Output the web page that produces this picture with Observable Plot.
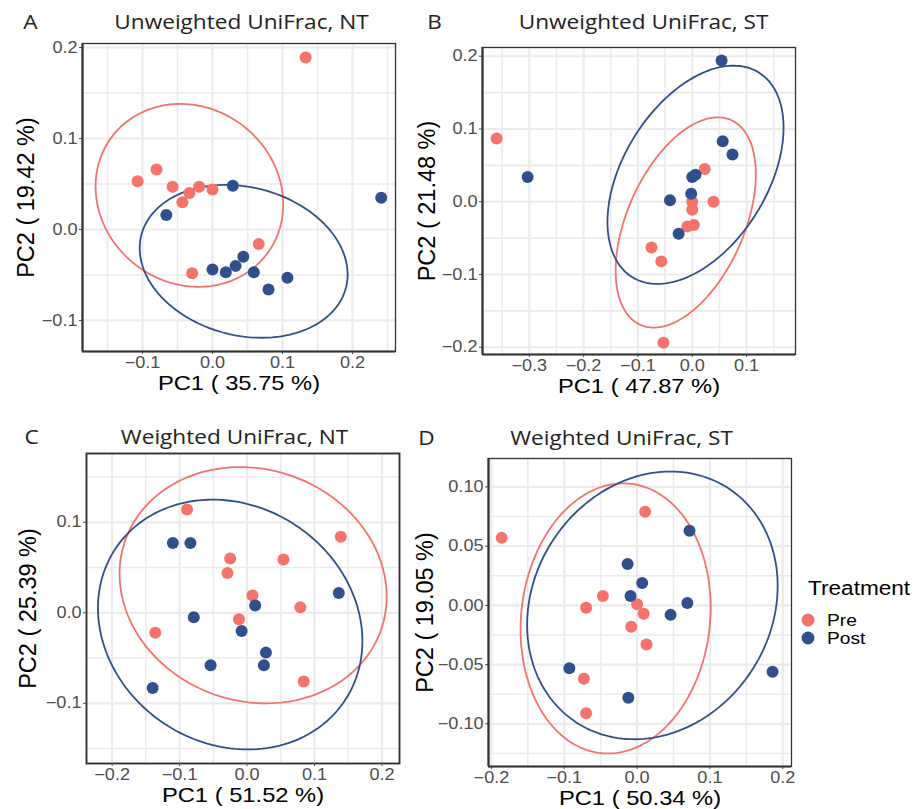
<!DOCTYPE html>
<html><head><meta charset="utf-8">
<script src="https://cdn.jsdelivr.net/npm/d3@7"></script>
<script src="https://cdn.jsdelivr.net/npm/@observablehq/plot@0.6"></script>
<style>
html,body{margin:0;padding:0;background:#fff;}
#chart{position:relative;width:915px;height:809px;overflow:hidden;background:#fff;}
#chart svg{position:absolute;overflow:visible;}
</style></head><body><div id="chart"></div>
<script>
// ---------- data ----------
const groups = ["Pre", "Post"];
const groupColors = ["#F4736A", "#2F508C"];
const legendTitle = "Treatment";

// A: Unweighted UniFrac, NT
const uwNtPre = [[0.133,0.189],[-0.107,0.053],[-0.080,0.066],[-0.057,0.047],[-0.043,0.030],[-0.033,0.040],[-0.019,0.047],[0.000,0.044],[-0.029,-0.048],[0.066,-0.016]];
const uwNtPost = [[0.029,0.048],[-0.066,0.016],[0.000,-0.044],[0.019,-0.047],[0.033,-0.040],[0.044,-0.030],[0.059,-0.047],[0.080,-0.066],[0.107,-0.053],[0.241,0.035]];
// ellipse: [xmin, xmax, ymin, ymax, x at top]
const uwNtEllPre = [-0.167,0.101,-0.063,0.138,-0.046];
const uwNtEllPost = [-0.104,0.193,-0.119,0.049,0.019];

// B: Unweighted UniFrac, ST
const uwStPre = [[-0.360,0.087],[0.023,0.045],[0.000,0.000],[0.000,-0.011],[0.039,0.000],[-0.009,-0.034],[0.003,-0.032],[-0.075,-0.063],[-0.057,-0.082],[-0.053,-0.194]];
const uwStPost = [[-0.303,0.034],[0.054,0.194],[0.056,0.083],[0.074,0.065],[0.000,0.034],[0.006,0.037],[-0.002,0.011],[-0.041,0.002],[-0.025,-0.044]];
const uwStEllPre = [-0.141,0.117,-0.173,0.116,0.047];
const uwStEllPost = [-0.156,0.168,-0.113,0.187,0.076];

// C: Weighted UniFrac, NT
const wNtPre = [[-0.089,0.114],[-0.025,0.060],[-0.029,0.044],[0.139,0.084],[0.054,0.059],[0.008,0.019],[0.079,0.006],[-0.012,-0.007],[-0.136,-0.022],[0.084,-0.076]];
const wNtPost = [[-0.110,0.077],[-0.084,0.077],[0.136,0.022],[0.012,0.008],[-0.079,-0.005],[-0.008,-0.020],[0.028,-0.044],[-0.054,-0.058],[0.025,-0.058],[-0.140,-0.083]];
const wNtEllPre = [-0.189,0.207,-0.100,0.161,-0.010];
const wNtEllPost = [-0.221,0.171,-0.151,0.125,-0.051];

// D: Weighted UniFrac, ST
const wStPre = [[-0.186,0.057],[-0.047,0.008],[-0.070,-0.002],[0.011,0.079],[0.000,0.001],[0.009,-0.007],[-0.008,-0.018],[0.013,-0.033],[-0.073,-0.062],[-0.070,-0.091]];
const wStPost = [[0.072,0.063],[-0.013,0.035],[0.007,0.019],[-0.009,0.008],[0.069,0.002],[0.046,-0.008],[-0.093,-0.053],[-0.012,-0.078],[0.186,-0.056]];
const wStEllPre = [-0.160,0.101,-0.125,0.103,-0.019];
const wStEllPost = [-0.151,0.193,-0.113,0.113,0.046];

// tick values
const ticksA_x = [-0.1,0,0.1,0.2], minorA_x = [-0.15,-0.05,0.05,0.15,0.25];
const ticksA_y = [-0.1,0,0.1,0.2], minorA_y = [-0.05,0.05,0.15];
const ticksB_x = [-0.3,-0.2,-0.1,0,0.1], minorB_x = [-0.35,-0.25,-0.15,-0.05,0.05,0.15];
const ticksB_y = [-0.2,-0.1,0,0.1,0.2], minorB_y = [-0.15,-0.05,0.05,0.15];
const ticksC_x = [-0.2,-0.1,0,0.1,0.2], minorC_x = [-0.15,-0.05,0.05,0.15];
const ticksC_y = [-0.1,0,0.1], minorC_y = [-0.15,-0.05,0.05,0.15];
const ticksD_x = [-0.2,-0.1,0,0.1,0.2], minorD_x = [-0.15,-0.05,0.05,0.15];
const ticksD_y = [-0.10,-0.05,0,0.05,0.10], minorD_y = [-0.125,-0.075,-0.025,0.025,0.075];

const panels = [
  {letter:"A", title:"Unweighted UniFrac, NT", xlab:"PC1 ( 35.75 %)", ylab:"PC2 ( 19.42 %)",
   pre:uwNtPre, post:uwNtPost, ellPre:uwNtEllPre, ellPost:uwNtEllPost,
   xd:[-0.1857,0.2614], yd:[-0.1341,0.2044], xt:ticksA_x, xm:minorA_x, yt:ticksA_y, ym:minorA_y, yf:".1f",
   box:{left:0, top:0, width:420, height:400, mt:43, mr:25, mb:49, ml:82},
   tdx:2.5, tdy:-20.5, ldx:-52, ldy:-20.5, ylx:-56, thick:true},
  {letter:"B", title:"Unweighted UniFrac, ST", xlab:"PC1 ( 47.87 %)", ylab:"PC2 ( 21.48 %)",
   pre:uwStPre, post:uwStPost, ellPre:uwStEllPre, ellPost:uwStEllPost,
   xd:[-0.386,0.190], yd:[-0.210,0.212], xt:ticksB_x, xm:minorB_x, yt:ticksB_y, ym:minorB_y, yf:".1f",
   box:{left:420, top:0, width:400, height:400, mt:47, mr:25, mb:46, ml:62},
   tdx:4.5, tdy:-25, ldx:-48, ldy:-25, ylx:-55, thick:true},
  {letter:"C", title:"Weighted UniFrac, NT", xlab:"PC1 ( 51.52 %)", ylab:"PC2 ( 25.39 %)",
   pre:wNtPre, post:wNtPost, ellPre:wNtEllPre, ellPost:wNtEllPost,
   xd:[-0.238,0.226], yd:[-0.1665,0.176], xt:ticksC_x, xm:minorC_x, yt:ticksC_y, ym:minorC_y, yf:".1f",
   box:{left:0, top:400, width:420, height:409, mt:53, mr:21, mb:46, ml:86},
   tdx:-8.5, tdy:-16, ldx:-55, ldy:-16, ylx:-58, thick:false},
  {letter:"D", title:"Weighted UniFrac, ST", xlab:"PC1 ( 50.34 %)", ylab:"PC2 ( 19.05 %)",
   pre:wStPre, post:wStPost, ellPre:wStEllPre, ellPost:wStEllPost,
   xd:[-0.204,0.212], yd:[-0.136,0.124], xt:ticksD_x, xm:minorD_x, yt:ticksD_y, ym:minorD_y, yf:".2f",
   box:{left:420, top:400, width:380, height:409, mt:58, mr:9, mb:43, ml:68},
   tdx:-18.5, tdy:-20, ldx:-62, ldy:-20, ylx:-63, thick:true}
];

// ---------- helpers ----------
const SANS = "'Liberation Sans', Arial, Helvetica, sans-serif";
const TITLE_FONT = "'Open Sans', 'Noto Sans', sans-serif";
const SX = 1.13; // horizontal text stretch of the reference image

function ellipse(p, group) {
  const [xmin, xmax, ymin, ymax, xtop] = p;
  const cx = (xmin + xmax) / 2, rx = (xmax - xmin) / 2;
  const cy = (ymin + ymax) / 2, ry = (ymax - ymin) / 2;
  const phi = Math.acos(Math.max(-1, Math.min(1, (xtop - cx) / rx)));
  return d3.range(0, 181).map(i => {
    const t = i / 180 * 2 * Math.PI;
    return {x: cx + rx * Math.cos(t), y: cy + ry * Math.cos(t - phi), group};
  });
}

function isRotated(el) {
  for (let n = el; n && n.getAttribute; n = n.parentNode) {
    const tr = n.getAttribute("transform");
    if (tr && tr.includes("rotate")) return true;
  }
  return false;
}

function stretch(svg, sx) {
  svg.querySelectorAll("text").forEach(t => {
    if (isRotated(t)) return;
    const w = t.getComputedTextLength();
    if (!(w > 0)) return;
    t.setAttribute("textLength", (w * sx).toFixed(2));
    t.setAttribute("lengthAdjust", "spacingAndGlyphs");
  });
}

const chart = document.getElementById("chart");

for (const p of panels) {
  const pts = [
    ...p.pre.map(([x, y]) => ({x, y, group: "Pre"})),
    ...p.post.map(([x, y]) => ({x, y, group: "Post"}))
  ];
  const ells = [...ellipse(p.ellPre, "Pre"), ...ellipse(p.ellPost, "Post")];
  const b = p.box;
  const marks = [
    Plot.gridX(p.xm, {stroke: "#ebebeb", strokeOpacity: 1, strokeWidth: 1.6}),
    Plot.gridY(p.ym, {stroke: "#ebebeb", strokeOpacity: 1, strokeWidth: 1.6}),
    Plot.gridX(p.xt, {stroke: "#ebebeb", strokeOpacity: 1, strokeWidth: 2.2}),
    Plot.gridY(p.yt, {stroke: "#ebebeb", strokeOpacity: 1, strokeWidth: 2.2}),
    Plot.line(ells, {x: "x", y: "y", z: "group", stroke: "group", strokeWidth: 1.8}),
    Plot.dot(pts, {x: "x", y: "y", fill: "group", r: 6}),
    Plot.frame({stroke: "#333", strokeWidth: p.thick ? 1.3 : 1.9}),
    Plot.axisX(p.xt, {tickFormat: ".1f", tickSize: 3, tickPadding: 2, fontSize: 16, color: "#4d4d4d", label: null, fontFamily: SANS}),
    Plot.axisY(p.yt, {tickFormat: p.yf, tickSize: 3, tickPadding: 2, fontSize: 16, color: "#4d4d4d", label: null, fontFamily: SANS}),
    Plot.text([p.xlab], {frameAnchor: "bottom", dy: 32, text: d => d, fontSize: 21, fill: "#000", fontFamily: SANS, lineAnchor: "middle"}),
    Plot.text([p.ylab], {frameAnchor: "left", dx: p.ylx, rotate: -90, text: d => d, fontSize: 23.5, fill: "#000", fontFamily: SANS, lineAnchor: "middle", textAnchor: "middle"}),
    Plot.text([p.title], {frameAnchor: "top", dx: p.tdx, dy: p.tdy, text: d => d, fontSize: 20, fill: "#222", fontFamily: TITLE_FONT, lineAnchor: "middle"}),
    Plot.text([p.letter], {frameAnchor: "top-left", dx: p.ldx, dy: p.ldy, text: d => d, fontSize: 20, fill: "#222", fontFamily: TITLE_FONT, lineAnchor: "middle", textAnchor: "middle"})
  ];
  if (p.thick) {
    marks.push(Plot.ruleX([p.xd[0]], {stroke: "#333", strokeWidth: 2.2}));
    marks.push(Plot.ruleY([p.yd[0]], {stroke: "#333", strokeWidth: 2.2}));
  }
  const svg = Plot.plot({
    width: b.width, height: b.height,
    marginTop: b.mt, marginRight: b.mr, marginBottom: b.mb, marginLeft: b.ml,
    x: {domain: p.xd, label: null},
    y: {domain: p.yd, label: null},
    color: {domain: groups, range: groupColors},
    style: {background: "transparent", fontFamily: SANS, overflow: "visible"},
    marks
  });
  svg.style.left = b.left + "px";
  svg.style.top = b.top + "px";
  chart.appendChild(svg);
  stretch(svg, SX);
}

// ---------- legend ----------
const leg = d3.select(chart).append("svg")
  .attr("width", 125).attr("height", 90)
  .style("left", "790px").style("top", "570px");
leg.append("text").attr("x", 18).attr("y", 18).attr("dominant-baseline", "central")
  .attr("font-family", SANS).attr("font-size", 20).attr("fill", "#000").text(legendTitle);
groups.forEach((g, i) => {
  leg.append("circle").attr("cx", 18).attr("cy", 50 + i * 18).attr("r", 6.5).attr("fill", groupColors[i]);
  leg.append("text").attr("x", 37).attr("y", 50 + i * 18).attr("dominant-baseline", "central")
    .attr("font-family", SANS).attr("font-size", 17).attr("fill", "#000").text(g);
});
stretch(leg.node(), SX);
</script></body></html>
